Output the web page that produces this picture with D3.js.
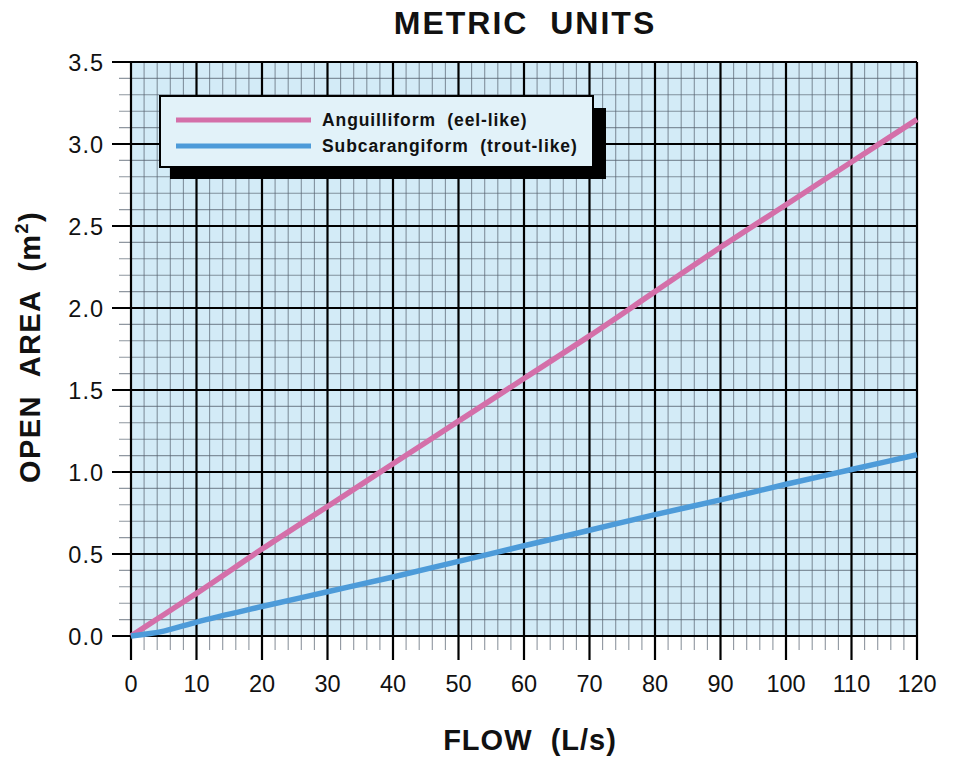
<!DOCTYPE html>
<html><head><meta charset="utf-8">
<script src="https://cdn.jsdelivr.net/npm/d3@7"></script>
<style>body{margin:0;background:#fff}svg{display:block}</style>
</head><body>
<script>
const flow = [0, 5, 10, 20, 30, 40, 50, 60, 70, 80, 90, 100, 110, 120];
const anguilliform = [0, 0.13, 0.26, 0.53, 0.79, 1.05, 1.31, 1.57, 1.83, 2.10, 2.37, 2.63, 2.89, 3.15];
const subcarangiform = [0, 0.03, 0.085, 0.18, 0.27, 0.36, 0.455, 0.55, 0.645, 0.74, 0.83, 0.925, 1.015, 1.105];
const xTicks = [0,10,20,30,40,50,60,70,80,90,100,110,120];
const yTicks = [0,0.5,1.0,1.5,2.0,2.5,3.0,3.5];
const seriesNames = ["Anguilliform  (eel-like)", "Subcarangiform  (trout-like)"];
const colors = ["#d46fa9", "#4d9bd9"];

const W = 962, H = 759;
const svg = d3.select("body").append("svg").attr("width", W).attr("height", H);
const x = d3.scaleLinear().domain([0,120]).range([131,917]);
const y = d3.scaleLinear().domain([0,3.5]).range([636,62]);
const font = "'Liberation Sans', Arial, Helvetica, sans-serif";

svg.append("rect").attr("x", x(0)).attr("y", y(3.5)).attr("width", x(120)-x(0)).attr("height", y(0)-y(3.5)).attr("fill", "#d3ebf7");

const minorX = d3.range(0, 121, 2).filter(v => v % 10 !== 0);
const minorY = d3.range(0, 36).map(v => v/10).filter(v => Math.round(v*10) % 5 !== 0);
const g = svg.append("g");
g.selectAll(".mx").data(minorX).join("line")
  .attr("x1", d=>x(d)).attr("x2", d=>x(d)).attr("y1", y(3.5)).attr("y2", y(0)+14)
  .attr("stroke", "#55606e").attr("stroke-width", 1.1).attr("opacity", 0.65);
g.selectAll(".my").data(minorY).join("line")
  .attr("y1", d=>y(d)).attr("y2", d=>y(d)).attr("x1", x(0)-12).attr("x2", x(120))
  .attr("stroke", "#55606e").attr("stroke-width", 1.1).attr("opacity", 0.65);
g.selectAll(".Mx").data(xTicks).join("line")
  .attr("x1", d=>x(d)).attr("x2", d=>x(d)).attr("y1", y(3.5)).attr("y2", y(0)+24)
  .attr("stroke", "#000").attr("stroke-width", 2.2);
g.selectAll(".My").data(yTicks).join("line")
  .attr("y1", d=>y(d)).attr("y2", d=>y(d)).attr("x1", x(0)-19).attr("x2", x(120))
  .attr("stroke", "#000").attr("stroke-width", 2.2);

svg.selectAll(".xl").data(xTicks).join("text")
  .attr("x", d=>x(d)).attr("y", 692).attr("text-anchor", "middle")
  .attr("font-family", font).attr("font-size", 23.5).attr("fill", "#111").text(d=>d);
svg.selectAll(".yl").data(yTicks).join("text")
  .attr("x", 104).attr("y", d=>y(d)+9).attr("text-anchor", "end")
  .attr("font-family", font).attr("font-size", 23.5).attr("letter-spacing", 1).attr("fill", "#111").text(d=>d.toFixed(1));

const line = d3.line().x(d=>x(d[0])).y(d=>y(d[1])).curve(d3.curveMonotoneX);
[anguilliform, subcarangiform].forEach((s,i) => {
  svg.append("path").datum(flow.map((f,j)=>[f,s[j]])).attr("d", line)
    .attr("fill","none").attr("stroke", colors[i]).attr("stroke-width", 5.5).attr("stroke-linecap","butt");
});

// legend
svg.append("rect").attr("x", 170).attr("y", 108).attr("width", 436).attr("height", 71).attr("fill", "#000");
svg.append("rect").attr("x", 160).attr("y", 96).attr("width", 433).attr("height", 71).attr("fill", "#e2f2f9").attr("stroke", "#000").attr("stroke-width", 2);
seriesNames.forEach((n,i) => {
  const ly = 120 + i*26;
  svg.append("line").attr("x1", 176).attr("x2", 311).attr("y1", ly).attr("y2", ly).attr("stroke", colors[i]).attr("stroke-width", 5);
  svg.append("text").attr("x", 322).attr("y", ly+6).attr("font-family", font).attr("font-weight", "bold")
    .attr("font-size", 17.5).attr("letter-spacing", 0.9).attr("fill", "#111").style("white-space","pre").text(n);
});

svg.append("text").attr("x", 525).attr("y", 34).attr("text-anchor","middle").attr("font-family", font)
  .attr("font-weight","bold").attr("font-size", 32).attr("letter-spacing", 2).attr("fill","#111").style("white-space","pre").text("METRIC  UNITS");
svg.append("text").attr("x", 530).attr("y", 750).attr("text-anchor","middle").attr("font-family", font)
  .attr("font-weight","bold").attr("font-size", 29).attr("letter-spacing", 1).attr("fill","#111").style("white-space","pre").text("FLOW  (L/s)");
const yl = svg.append("text").attr("transform", "translate(40,347) rotate(-90)").attr("text-anchor","middle")
  .attr("font-family", font).attr("font-weight","bold").attr("font-size", 29).attr("letter-spacing", 1.4).attr("fill","#111").style("white-space","pre");
yl.append("tspan").text("OPEN  AREA  (m");
yl.append("tspan").attr("font-size", 18).attr("dy", -12).text("2");
yl.append("tspan").attr("dy", 12).text(")");
</script>
</body></html>
